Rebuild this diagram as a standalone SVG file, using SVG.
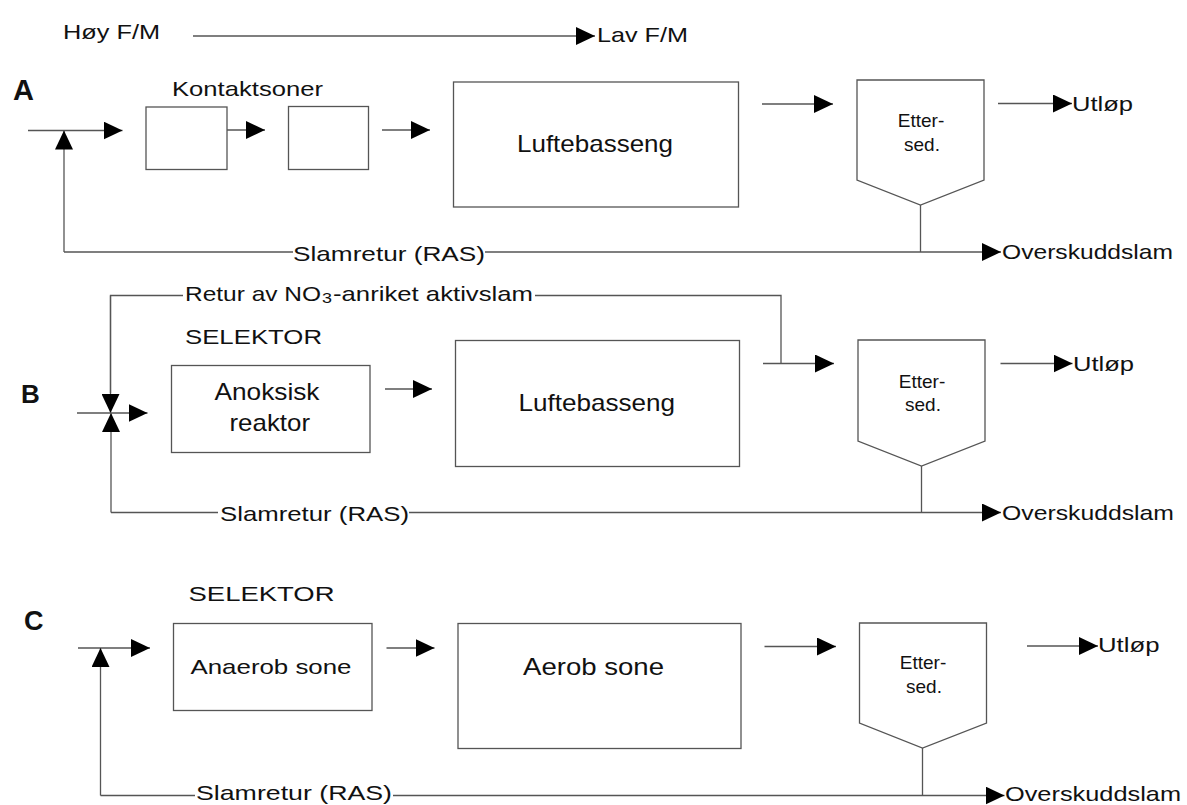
<svg xmlns="http://www.w3.org/2000/svg" width="1187" height="805" viewBox="0 0 1187 805">
<defs>
<marker id="ah" markerUnits="userSpaceOnUse" markerWidth="19" markerHeight="18" refX="19" refY="9" orient="auto" viewBox="0 0 19 18">
<path d="M0,0 L19,9 L0,18 z" fill="#000"/>
</marker>
</defs>
<style>
text{font-family:"Liberation Sans",Arial,sans-serif;fill:#111;}
.t{font-size:21px;}
.b{font-size:24px;}
.s{font-size:19px;}
.L{font-weight:bold;}
.box{fill:none;stroke:#555;stroke-width:1.3;}
.c{fill:none;stroke:#555;stroke-width:1.3;}
.a{marker-end:url(#ah);}
</style>
<rect width="1187" height="805" fill="#fff"/>

<g id="connectors">
<!-- top F/M arrow -->
<path class="c a" d="M193 36 H595"/>
<!-- Row A -->
<path class="c a" d="M28 130.5 H122.5"/>
<path class="c a" d="M64 252 V130.5"/>
<path class="c" d="M64 252 H293"/>
<path class="c a" d="M227 130 H265"/>
<path class="c a" d="M382 130 H430"/>
<path class="c a" d="M762 104 H833"/>
<path class="c a" d="M998 103.5 H1072"/>
<path class="c" d="M920.5 205 V252"/>
<path class="c a" d="M485 252 H1001"/>
<!-- Row B -->
<path class="c" d="M110.5 393 V295.5 H183"/>
<path class="c a" d="M110.5 295.5 V413"/>
<path class="c" d="M535 295.5 H781 V363.5"/>
<path class="c a" d="M111 512.5 V413"/>
<path class="c" d="M111 512.5 H218"/>
<path class="c a" d="M77 413 H147.5"/>
<path class="c a" d="M385 389 H432"/>
<path class="c a" d="M763 363.5 H834"/>
<path class="c a" d="M1000.5 363.5 H1072.5"/>
<path class="c" d="M921.5 466 V512.5"/>
<path class="c a" d="M409 512.5 H1001"/>
<!-- Row C -->
<path class="c a" d="M78 648 H150"/>
<path class="c a" d="M100.5 795.5 V648"/>
<path class="c" d="M100.5 795.5 H195"/>
<path class="c a" d="M386.5 648 H434.5"/>
<path class="c a" d="M764.5 646.5 H836"/>
<path class="c a" d="M1027 646 H1098"/>
<path class="c" d="M922.5 748 V795.5"/>
<path class="c a" d="M393 795.5 H1004.5"/>
</g>

<g id="header">
<text class="t" x="63" y="38.5" textLength="97" lengthAdjust="spacingAndGlyphs">Høy F/M</text>
<text class="t" x="597" y="41.5" font-size="22" textLength="91" lengthAdjust="spacingAndGlyphs">Lav F/M</text>
</g>

<g id="rowA">
<text class="L" x="13" y="100" font-size="29">A</text>
<text class="t" x="172" y="96" textLength="151" lengthAdjust="spacingAndGlyphs">Kontaktsoner</text>
<g id="A-kontakt1"><rect class="box" x="146" y="107" width="81" height="62.5"/></g>
<g id="A-kontakt2"><rect class="box" x="288.5" y="106.5" width="80" height="63"/></g>
<g id="A-lufte">
<rect class="box" x="453.5" y="82" width="285" height="125"/>
<text class="b" x="517" y="151.5" textLength="156" lengthAdjust="spacingAndGlyphs">Luftebasseng</text>
</g>
<g id="A-etter">
<path class="box" d="M857 80 H984 V180 L920.5 205 L857 180 Z"/>
<text class="s" x="921" y="127" text-anchor="middle">Etter-</text>
<text class="s" x="922" y="150.5" text-anchor="middle">sed.</text>
</g>
<g id="A-utlop"><text class="t" x="1072" y="110.5" textLength="61" lengthAdjust="spacingAndGlyphs">Utløp</text></g>
<g id="A-ras"><text class="t" x="293" y="260.5" font-size="23" textLength="192" lengthAdjust="spacingAndGlyphs">Slamretur (RAS)</text></g>
<g id="A-overskudd"><text class="t" x="1002" y="258.5" font-size="23" textLength="171" lengthAdjust="spacingAndGlyphs">Overskuddslam</text></g>
</g>

<g id="rowB">
<g id="B-retur">
<text class="t" x="185" y="301" textLength="136" lengthAdjust="spacingAndGlyphs">Retur av NO</text>
<text x="322" y="303" font-size="14" textLength="10" lengthAdjust="spacingAndGlyphs">3</text>
<text class="t" x="333" y="301" textLength="200" lengthAdjust="spacingAndGlyphs">-anriket aktivslam</text>
</g>
<text class="t" x="185" y="343.5" textLength="137" lengthAdjust="spacingAndGlyphs">SELEKTOR</text>
<text class="L" x="21" y="403" font-size="26">B</text>
<g id="B-anoksisk">
<rect class="box" x="171.5" y="365.5" width="198.5" height="87"/>
<text class="b" x="214.5" y="399.5" textLength="105" lengthAdjust="spacingAndGlyphs">Anoksisk</text>
<text class="b" x="229.5" y="430.5" textLength="80.5" lengthAdjust="spacingAndGlyphs">reaktor</text>
</g>
<g id="B-lufte">
<rect class="box" x="455.5" y="340.5" width="284" height="126"/>
<text class="b" x="518.5" y="411" textLength="156.5" lengthAdjust="spacingAndGlyphs">Luftebasseng</text>
</g>
<g id="B-etter">
<path class="box" d="M858 340 H985 V441 L921.5 466 L858 441 Z"/>
<text class="s" x="922" y="388" text-anchor="middle">Etter-</text>
<text class="s" x="923" y="411" text-anchor="middle">sed.</text>
</g>
<g id="B-utlop"><text class="t" x="1073" y="371" textLength="61" lengthAdjust="spacingAndGlyphs">Utløp</text></g>
<g id="B-ras"><text class="t" x="220" y="520.5" font-size="23" textLength="189" lengthAdjust="spacingAndGlyphs">Slamretur (RAS)</text></g>
<g id="B-overskudd"><text class="t" x="1002" y="519.5" font-size="23" textLength="172" lengthAdjust="spacingAndGlyphs">Overskuddslam</text></g>
</g>

<g id="rowC">
<text class="t" x="188.5" y="600.5" textLength="146" lengthAdjust="spacingAndGlyphs">SELEKTOR</text>
<text class="L" x="24" y="629.5" font-size="27">C</text>
<g id="C-anaerob">
<rect class="box" x="173.5" y="623.5" width="198.5" height="87"/>
<text class="t" x="190.5" y="674" font-size="22" textLength="161" lengthAdjust="spacingAndGlyphs">Anaerob sone</text>
</g>
<g id="C-aerob">
<rect class="box" x="458" y="623.5" width="283" height="125"/>
<text class="b" x="523" y="674.5" textLength="141" lengthAdjust="spacingAndGlyphs">Aerob sone</text>
</g>
<g id="C-etter">
<path class="box" d="M859.5 623 H986.5 V723 L922.5 748 L859.5 723 Z"/>
<text class="s" x="923" y="669" text-anchor="middle">Etter-</text>
<text class="s" x="924" y="693" text-anchor="middle">sed.</text>
</g>
<g id="C-utlop"><text class="t" x="1098" y="651.5" textLength="61.5" lengthAdjust="spacingAndGlyphs">Utløp</text></g>
<g id="C-ras"><text class="t" x="196" y="800" font-size="22" textLength="196" lengthAdjust="spacingAndGlyphs">Slamretur (RAS)</text></g>
<g id="C-overskudd"><text class="t" x="1005" y="801" font-size="23" textLength="176" lengthAdjust="spacingAndGlyphs">Overskuddslam</text></g>
</g>
</svg>
